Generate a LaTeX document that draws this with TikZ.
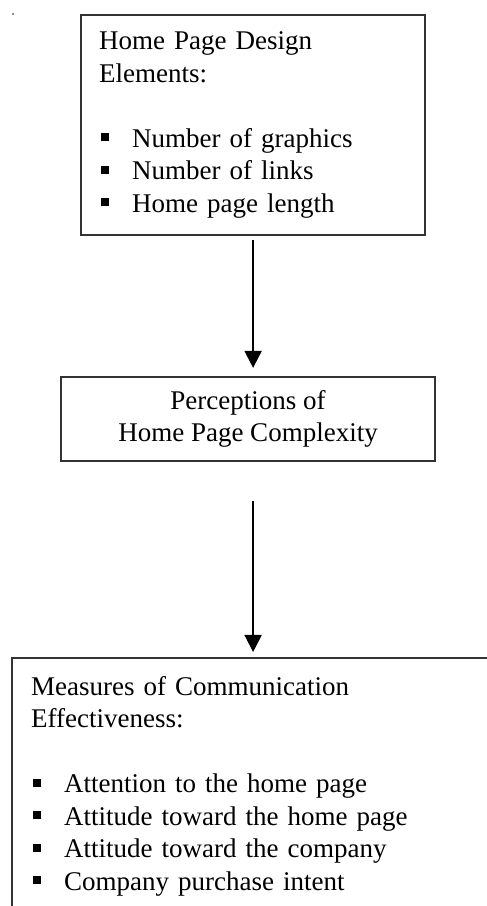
\documentclass[tikz,border=0pt]{standalone}
\usepackage{fontspec}
\setmainfont{Liberation Serif}
\usetikzlibrary{arrows.meta}

\newcommand{\sqitem}{\hspace*{1pt}\rule[3pt]{4pt}{4pt}\hspace*{11.5pt}}

\begin{document}
\begin{tikzpicture}[x=0.5pt,y=0.5pt,
    box/.style={draw=black!80,line width=1.1pt,inner ysep=0pt,
      font=\fontsize{13.5}{16.25}\selectfont},
    arr/.style={-{Triangle[width=8.5pt,length=8.5pt]},line width=1pt}]
  \useasboundingbox (0,0) rectangle (487,906);
  \fill[black!60] (13,892) circle (0.6pt);
  \node[box,anchor=north west,minimum width=172pt,minimum height=110pt,
    text width=154pt,inner xsep=9pt,align=left] (design) at (80,892)
    {Home Page Design\\Elements:\\[16.25pt]
     \sqitem Number of graphics\\
     \sqitem Number of links\\
     \sqitem Home page length};
  \node[box,minimum width=187pt,minimum height=42pt,align=center] (percep) at (248,487)
    {Perceptions of\\Home Page Complexity};
  \node[box,anchor=north west,minimum width=260pt,minimum height=128pt,
    text width=241pt,inner xsep=9.5pt,align=left] (effect) at (11,249)
    {Measures of Communication\\Effectiveness:\\[16.25pt]
     \sqitem Attention to the home page\\
     \sqitem Attitude toward the home page\\
     \sqitem Attitude toward the company\\
     \sqitem Company purchase intent};
  \draw[arr,shorten <=2pt,shorten >=4pt] (design.south) -- (design.south |- percep.north);
  \draw[arr,shorten <=19.5pt,shorten >=2.5pt] (design.south |- percep.south) -- (design.south |- effect.north);
\end{tikzpicture}
\end{document}
